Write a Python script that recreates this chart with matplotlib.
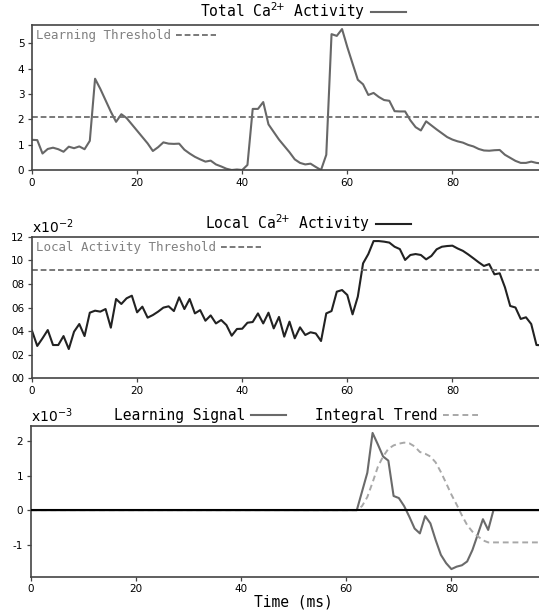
import numpy as np
import matplotlib
matplotlib.use("Agg")
import matplotlib.pyplot as plt
import matplotlib.ticker as ticker

# === Data ===
time_ms = np.arange(98)

total_ca = [1.19, 1.18, 0.65, 0.83, 0.88, 0.82, 0.72, 0.92, 0.86, 0.93,
            0.82, 1.15, 3.6, 3.2, 2.75, 2.3, 1.9, 2.2, 2.05, 1.8,
            1.55, 1.3, 1.05, 0.75, 0.9, 1.09, 1.04, 1.03, 1.04, 0.8,
            0.65, 0.52, 0.42, 0.33, 0.37, 0.22, 0.14, 0.05, 0.0, 0.02,
            0.0, 0.2, 2.41, 2.41, 2.68, 1.8, 1.5, 1.2, 0.95, 0.7,
            0.42, 0.28, 0.22, 0.25, 0.12, 0.0, 0.6, 5.36, 5.29, 5.56,
            4.85, 4.2, 3.56, 3.38, 2.96, 3.04, 2.88, 2.76, 2.73, 2.32,
            2.31, 2.31, 1.96, 1.69, 1.56, 1.92, 1.76, 1.6, 1.45, 1.3,
            1.2, 1.13, 1.08, 0.99, 0.93, 0.83, 0.77, 0.76, 0.78, 0.79,
            0.6, 0.48, 0.36, 0.28, 0.28, 0.33, 0.28, 0.26]
learning_threshold = 2.1

# local activity, in units of 1e-2
local_ca = [4.03, 2.74, 3.39, 4.09, 2.82, 2.82, 3.58, 2.48, 3.95, 4.6,
            3.58, 5.56, 5.73, 5.65, 5.87, 4.29, 6.72, 6.3, 6.78, 7.0,
            5.59, 6.07, 5.14, 5.36, 5.65, 5.99, 6.1, 5.7, 6.86, 5.87,
            6.72, 5.5, 5.78, 4.88, 5.33, 4.65, 4.94, 4.51, 3.61, 4.18,
            4.2, 4.71, 4.77, 5.5, 4.65, 5.56, 4.23, 5.2, 3.53, 4.8,
            3.39, 4.32, 3.67, 3.9, 3.8, 3.16, 5.5, 5.7, 7.34, 7.48,
            7.06, 5.42, 6.92, 9.74, 10.53, 11.63, 11.63, 11.58, 11.5, 11.15,
            10.95, 10.03, 10.45, 10.53, 10.45, 10.08, 10.37, 10.93, 11.15, 11.21,
            11.24, 11.0, 10.8, 10.5, 10.17, 9.83, 9.52, 9.68, 8.81, 8.9,
            7.71, 6.13, 6.0, 5.03, 5.17, 4.6, 2.82, 2.8]
local_threshold = 9.2

# learning signal / integral trend, in units of 1e-3
learning_signal = [0.0] * 62 + [
    0.0, 0.54, 1.08, 2.23, 1.9, 1.55, 1.43, 0.41, 0.35, 0.12,
    -0.19, -0.53, -0.67, -0.17, -0.38, -0.86, -1.29, -1.53, -1.7, -1.63,
    -1.59, -1.48, -1.15, -0.71, -0.26, -0.57, 0.0] + [0.0] * 9
integral_trend = [0.0] * 62 + [
    0.0, 0.12, 0.38, 0.8, 1.25, 1.55, 1.77, 1.87, 1.92, 1.95,
    1.93, 1.84, 1.68, 1.63, 1.55, 1.38, 1.1, 0.78, 0.45, 0.16,
    -0.15, -0.43, -0.62, -0.75, -0.87, -0.93] + [-0.93] * 10

x_ticks = [0, 20, 40, 60, 80]

MONO = "DejaVu Sans Mono"
SPINE = "#444444"

fig = plt.figure(figsize=(5.39, 6.14), dpi=100)
W, H = 539.0, 614.0


def make_axes(left, top, bottom):
    # axes runs to x=100, which lies past the right edge of the figure
    ax = fig.add_axes([left / W, 1 - bottom / H, 525.5 / W, (bottom - top) / H])
    ax.spines["right"].set_visible(False)
    for s in ("left", "bottom", "top"):
        ax.spines[s].set_color(SPINE)
        ax.spines[s].set_linewidth(1.2)
    ax.set_xlim(0, 100)
    ax.xaxis.set_major_locator(ticker.FixedLocator(x_ticks))
    ax.tick_params(axis="both", labelsize=7.5, length=3, width=0.9,
                   color=SPINE, pad=2.5, top=False, right=False)
    return ax


def title_legend(ax, handles, labels, xc, ncol=1):
    leg = ax.legend(handles, labels, loc="lower center", bbox_to_anchor=(xc, 0.99),
                    frameon=False, markerfirst=False, ncol=ncol,
                    prop={"family": MONO, "size": 10.5}, handlelength=2.4,
                    handletextpad=0.4, columnspacing=2.0, borderaxespad=0.0,
                    borderpad=0.3)
    return leg


def threshold_legend(ax, line, label):
    leg = ax.legend([line], [label], loc="upper left", bbox_to_anchor=(0.0, 1.0),
                    frameon=False, markerfirst=False, labelcolor="#808080",
                    prop={"family": MONO, "size": 9}, handlelength=3.2,
                    handletextpad=0.4, borderaxespad=0.0, borderpad=0.35)
    return leg


CA = r"Ca$^{2\!{+}}$"

# === Total Ca2+ activity ===
ax1 = make_axes(32, 25, 170)
l_total, = ax1.plot(time_ms, total_ca, color="#676767", lw=1.5)
l_thr = ax1.axhline(learning_threshold, color="#6e6e6e", lw=1.3,
                    linestyle=(0, (3.2, 1.6)))
ax1.set_ylim(0, 5.72)
ax1.yaxis.set_major_locator(ticker.MultipleLocator(1))
leg = title_legend(ax1, [l_total], [f"Total {CA} Activity"], 0.516)
ax1.add_artist(leg)
threshold_legend(ax1, l_thr, "Learning Threshold")

# === Local Ca2+ activity ===
ax2 = make_axes(32, 236.7, 378.3)
l_local, = ax2.plot(time_ms, np.array(local_ca) * 1e-2, color="#222222", lw=1.5)
l_lthr = ax2.axhline(local_threshold * 1e-2, color="#6e6e6e", lw=1.3,
                     linestyle=(0, (3.2, 1.6)))
ax2.set_ylim(0, 0.12)
ax2.yaxis.set_major_locator(ticker.MultipleLocator(0.02))
ax2.yaxis.set_major_formatter(ticker.FuncFormatter(lambda v, p: f"{v * 100:02.0f}"))
ax2.text(0.0, 1.005, "x10$^{-2}$", transform=ax2.transAxes, fontsize=10,
         ha="left", va="bottom")
leg = title_legend(ax2, [l_local], [f"Local {CA} Activity"], 0.526)
ax2.add_artist(leg)
threshold_legend(ax2, l_lthr, "Local Activity Threshold")

# === Learning signal ===
ax3 = make_axes(31, 426, 576.7)
l_sig, = ax3.plot(time_ms, np.array(learning_signal) * 1e-3, color="#6a6a6a", lw=1.5)
l_int, = ax3.plot(time_ms, np.array(integral_trend) * 1e-3, color="#a8a8a8", lw=1.4,
                  linestyle=(0, (3.0, 2.0)))
ax3.axhline(0, color="black", lw=1.5, zorder=3)
ax3.set_ylim(-1.92e-3, 2.43e-3)
ax3.yaxis.set_major_locator(ticker.MultipleLocator(1e-3))
ax3.yaxis.set_major_formatter(ticker.FuncFormatter(lambda v, p: f"{v * 1e3:.0f}"))
ax3.text(0.0, 1.005, "x10$^{-3}$", transform=ax3.transAxes, fontsize=10,
         ha="left", va="bottom")
title_legend(ax3, [l_sig, l_int], ["Learning Signal", "Integral Trend"], 0.504, ncol=2)
ax3.set_xlabel("Time (ms)", family=MONO, fontsize=10.5, labelpad=1)
ax3.xaxis.set_label_coords((293.75 - 31) / 525.5, -0.12)

fig.savefig("out.png", dpi=100)
